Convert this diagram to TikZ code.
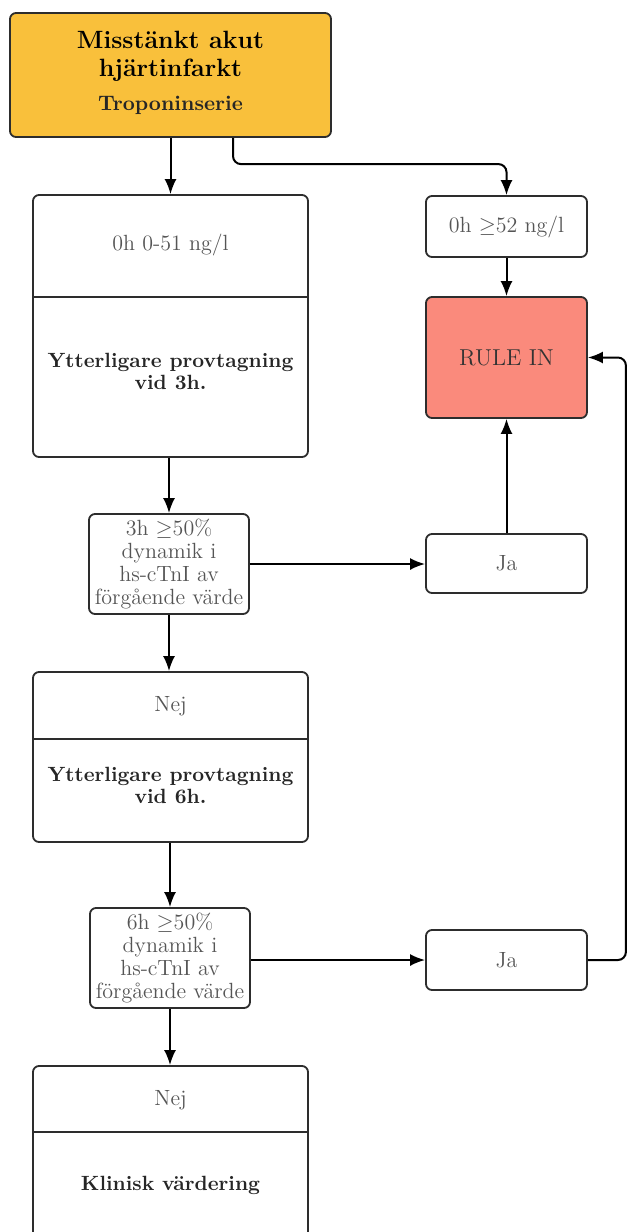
\documentclass[tikz,border=0pt]{standalone}
\usetikzlibrary{arrows.meta}
\definecolor{titleorange}{RGB}{249,192,59}
\definecolor{rulered}{RGB}{250,138,124}
\definecolor{boxline}{RGB}{45,45,45}
\definecolor{textgray}{RGB}{85,85,85}
\begin{document}
\begin{tikzpicture}[x=0.5pt,y=-0.5pt,
  box/.style={draw=boxline,line width=0.9pt,rounded corners=3pt,inner sep=0pt},
  txt/.style={text=textgray,font=\fontsize{11}{11.6}\selectfont,align=center},
  bold/.style={text=black!85,font=\fontsize{10.3}{11}\selectfont\bfseries,align=center},
  arr/.style={-{Latex[length=7.5pt,width=6pt]},line width=1pt,black}]
\clip (0,0) rectangle (628,1232);
% boxes
\node[box,fill=titleorange,minimum width=160.5pt,minimum height=62pt] (top) at (170.5,75) {};
\node[box,minimum width=137.5pt,minimum height=131pt] (A) at (170.5,326) {};
\node[box,minimum width=80.5pt,minimum height=30.5pt] (B) at (506.5,226.5) {};
\node[box,fill=rulered,minimum width=80.5pt,minimum height=60.5pt] (R) at (506.5,357.5) {};
\node[box,minimum width=80pt,minimum height=50pt] (Q1) at (169,564) {};
\node[box,minimum width=80.5pt,minimum height=29.5pt] (J1) at (506.5,563.5) {};
\node[box,minimum width=137.5pt,minimum height=85pt] (C) at (170.5,757) {};
\node[box,minimum width=80pt,minimum height=50pt] (Q2) at (170,958) {};
\node[box,minimum width=80.5pt,minimum height=30pt] (J2) at (506.5,960) {};
\node[box,minimum width=137.5pt,minimum height=112pt] (D) at (170.5,1178) {};
% dividers
\draw[boxline,line width=0.9pt] ([yshift=-51.5pt]A.north west) -- ([yshift=-51.5pt]A.north east);
\draw[boxline,line width=0.9pt] ([yshift=-34pt]C.north west) -- ([yshift=-34pt]C.north east);
\draw[boxline,line width=0.9pt] ([yshift=-33.5pt]D.north west) -- ([yshift=-33.5pt]D.north east);
% texts
\node[align=center,font=\fontsize{12.5}{14}\selectfont\bfseries] (title) at (170.5,56) {Misstänkt akut\\hjärtinfarkt};
\node[bold,font=\fontsize{10.5}{11}\selectfont\bfseries] (serie) at (170.5,105) {Troponinserie};
\node[txt] (a1) at (170.5,245) {0h 0-51 ng/l};
\node[bold] (a2) at (170.5,371) {Ytterligare provtagning\\vid 3h.};
\node[txt] (b1) at (B) {0h $\geq$52 ng/l};
\node[txt,text=black!80,font=\fontsize{11.5}{11.5}\selectfont] (r1) at (R) {RULE IN};
\node[txt] (q1) at (Q1) {3h $\geq$50\%\\dynamik i\\hs-cTnI av\\förgående värde};
\node[txt] (j1) at (J1) {Ja};
\node[txt] (c1) at (170.5,706) {Nej};
\node[bold] (c2) at (170.5,785) {Ytterligare provtagning\\vid 6h.};
\node[txt] (q2) at (Q2) {6h $\geq$50\%\\dynamik i\\hs-cTnI av\\förgående värde};
\node[txt] (j2) at (J2) {Ja};
\node[txt] (d1) at (170.5,1100) {Nej};
\node[bold] (d2) at (170.5,1185) {Klinisk värdering};
% connectors
\draw[arr] (top.south) -- (A.north);
\draw[arr,rounded corners=4pt] ([xshift=31.25pt]top.south) |- ([yshift=15.5pt]B.north) -- (B.north);
\draw[arr] (B.south) -- (R.north);
\draw[arr] (A.south -| Q1.north) -- (Q1.north);
\draw[arr] (Q1.east) -- (Q1.east -| J1.west);
\draw[arr] (J1.north) -- (R.south);
\draw[arr] (Q1.south) -- (Q1.south |- C.north);
\draw[arr] (C.south -| Q2.north) -- (Q2.north);
\draw[arr] (Q2.east |- J2.west) -- (J2.west);
\draw[arr,rounded corners=4pt] (J2.east) -- ++(38,0) |- (R.east);
\draw[arr] (Q2.south) -- (Q2.south |- D.north);
\end{tikzpicture}
\end{document}
